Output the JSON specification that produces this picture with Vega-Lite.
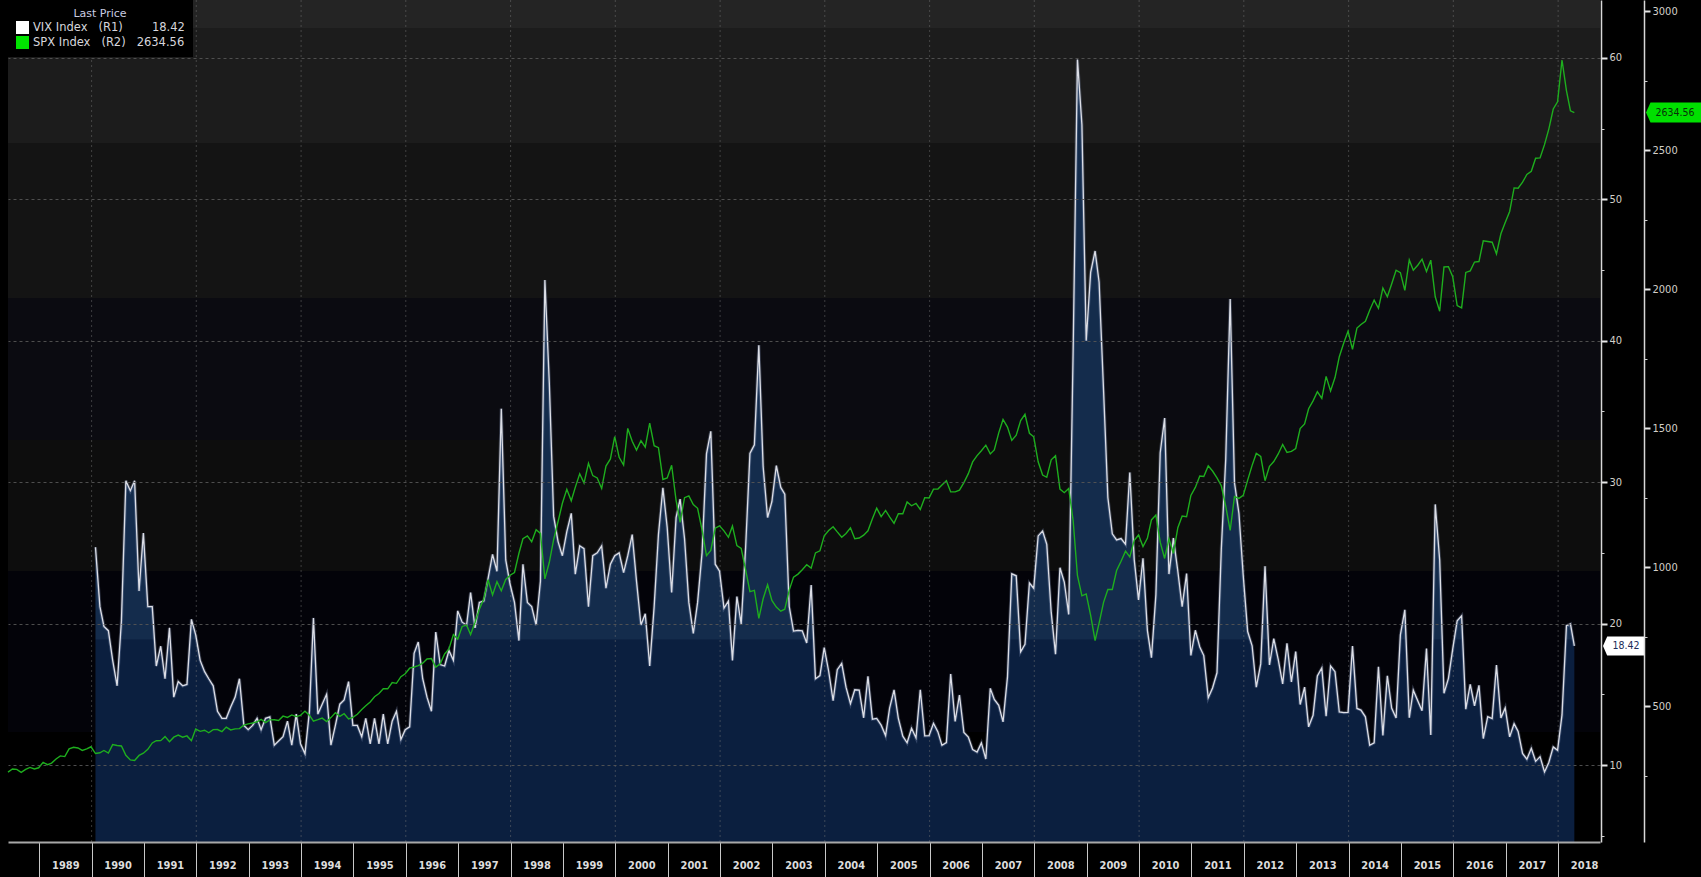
{
"$schema": "https://vega.github.io/schema/vega-lite/v6.json",
"width": 1592,
"height": 842,
"autosize": {"type": "none"},
"padding": {"left": 8, "top": 0, "right": 101, "bottom": 35},
"background": "#000000",
"config": {
  "view": {"stroke": null},
  "font": "Liberation Sans Narrow, DejaVu Sans Condensed, Liberation Sans, sans-serif"
},
"datasets": {
"bands": [
{"lo": 62.12, "hi": 64.1, "b": "b1"},
{"lo": 53.99, "hi": 62.12, "b": "b2"},
{"lo": 43.03, "hi": 53.99, "b": "b3"},
{"lo": 32.98, "hi": 43.03, "b": "b4"},
{"lo": 23.72, "hi": 32.98, "b": "b5"},
{"lo": 12.33, "hi": 23.72, "b": "b6"},
{"lo": 4.555, "hi": 12.33, "b": "b7"}
],
"vgrid": [
{"d":"1990-01-01"},{"d":"1992-01-01"},{"d":"1994-01-01"},{"d":"1996-01-01"},{"d":"1998-01-01"},{"d":"2000-01-01"},{"d":"2002-01-01"},{"d":"2004-01-01"},{"d":"2006-01-01"},{"d":"2008-01-01"},{"d":"2010-01-01"},{"d":"2012-01-01"},{"d":"2014-01-01"},{"d":"2016-01-01"},{"d":"2018-01-01"}
],
"last": [
{"s":"VIX Index","d":"2018-04-24","p":18.42},
{"s":"SPX Index","d":"2018-04-24","p":2634.56}
],
"lastvix": [{"d":"2018-04-24","v":18.42}],
"lastspx": [{"d":"2018-04-24","v":2634.56}],
"vix": [
{"d":"1990-01-28","v":25.4},{"d":"1990-02-28","v":21.2},{"d":"1990-03-28","v":19.8},{"d":"1990-04-28","v":19.5},{"d":"1990-05-28","v":17.4},{"d":"1990-06-28","v":15.6},{"d":"1990-07-28","v":20.2},{"d":"1990-08-28","v":30.1},{"d":"1990-09-28","v":29.4},{"d":"1990-10-28","v":30.1},{"d":"1990-11-28","v":22.3},{"d":"1990-12-28","v":26.4},
{"d":"1991-01-28","v":21.2},{"d":"1991-02-28","v":21.2},{"d":"1991-03-28","v":17.0},{"d":"1991-04-28","v":18.4},{"d":"1991-05-28","v":16.1},{"d":"1991-06-28","v":19.7},{"d":"1991-07-28","v":14.8},{"d":"1991-08-28","v":15.9},{"d":"1991-09-28","v":15.6},{"d":"1991-10-28","v":15.7},{"d":"1991-11-28","v":20.3},{"d":"1991-12-28","v":19.2},
{"d":"1992-01-28","v":17.4},{"d":"1992-02-28","v":16.6},{"d":"1992-03-28","v":16.1},{"d":"1992-04-28","v":15.6},{"d":"1992-05-28","v":13.8},{"d":"1992-06-28","v":13.3},{"d":"1992-07-28","v":13.3},{"d":"1992-08-28","v":14.1},{"d":"1992-09-28","v":14.8},{"d":"1992-10-28","v":16.1},{"d":"1992-11-28","v":12.8},{"d":"1992-12-28","v":12.5},
{"d":"1993-01-28","v":12.8},{"d":"1993-02-28","v":13.3},{"d":"1993-03-28","v":12.5},{"d":"1993-04-28","v":13.3},{"d":"1993-05-28","v":13.4},{"d":"1993-06-28","v":11.4},{"d":"1993-07-28","v":11.7},{"d":"1993-08-28","v":12.0},{"d":"1993-09-28","v":13.1},{"d":"1993-10-28","v":11.4},{"d":"1993-11-28","v":13.6},{"d":"1993-12-28","v":11.5},
{"d":"1994-01-28","v":10.8},{"d":"1994-02-28","v":13.8},{"d":"1994-03-28","v":20.4},{"d":"1994-04-28","v":13.6},{"d":"1994-05-28","v":14.3},{"d":"1994-06-28","v":15.0},{"d":"1994-07-28","v":11.4},{"d":"1994-08-28","v":12.8},{"d":"1994-09-28","v":14.3},{"d":"1994-10-28","v":14.6},{"d":"1994-11-28","v":15.9},{"d":"1994-12-28","v":12.8},
{"d":"1995-01-28","v":12.8},{"d":"1995-02-28","v":12.0},{"d":"1995-03-28","v":13.3},{"d":"1995-04-28","v":11.5},{"d":"1995-05-28","v":13.3},{"d":"1995-06-28","v":11.5},{"d":"1995-07-28","v":13.6},{"d":"1995-08-28","v":11.5},{"d":"1995-09-28","v":13.1},{"d":"1995-10-28","v":13.8},{"d":"1995-11-28","v":11.8},{"d":"1995-12-28","v":12.5},
{"d":"1996-01-28","v":12.7},{"d":"1996-02-28","v":17.9},{"d":"1996-03-28","v":18.7},{"d":"1996-04-28","v":16.1},{"d":"1996-05-28","v":14.8},{"d":"1996-06-28","v":13.8},{"d":"1996-07-28","v":19.4},{"d":"1996-08-28","v":17.1},{"d":"1996-09-28","v":17.0},{"d":"1996-10-28","v":18.1},{"d":"1996-11-28","v":17.4},{"d":"1996-12-28","v":20.9},
{"d":"1997-01-28","v":20.1},{"d":"1997-02-28","v":19.9},{"d":"1997-03-28","v":22.2},{"d":"1997-04-28","v":19.7},{"d":"1997-05-28","v":21.5},{"d":"1997-06-28","v":21.6},{"d":"1997-07-28","v":23.2},{"d":"1997-08-28","v":24.9},{"d":"1997-09-28","v":23.7},{"d":"1997-10-28","v":35.2},{"d":"1997-11-28","v":24.5},{"d":"1997-12-28","v":22.8},
{"d":"1998-01-28","v":21.5},{"d":"1998-02-28","v":18.8},{"d":"1998-03-28","v":24.2},{"d":"1998-04-28","v":21.5},{"d":"1998-05-28","v":21.2},{"d":"1998-06-28","v":19.9},{"d":"1998-07-28","v":23.0},{"d":"1998-08-28","v":44.3},{"d":"1998-09-28","v":37.0},{"d":"1998-10-28","v":27.6},{"d":"1998-11-28","v":25.8},{"d":"1998-12-28","v":24.8},
{"d":"1999-01-28","v":26.5},{"d":"1999-02-28","v":27.8},{"d":"1999-03-28","v":23.5},{"d":"1999-04-28","v":25.5},{"d":"1999-05-28","v":25.3},{"d":"1999-06-28","v":21.2},{"d":"1999-07-28","v":24.8},{"d":"1999-08-28","v":25.0},{"d":"1999-09-28","v":25.5},{"d":"1999-10-28","v":22.5},{"d":"1999-11-28","v":24.2},{"d":"1999-12-28","v":24.8},
{"d":"2000-01-28","v":25.0},{"d":"2000-02-28","v":23.6},{"d":"2000-03-28","v":24.8},{"d":"2000-04-28","v":26.3},{"d":"2000-05-28","v":23.0},{"d":"2000-06-28","v":19.9},{"d":"2000-07-28","v":20.7},{"d":"2000-08-28","v":17.0},{"d":"2000-09-28","v":21.2},{"d":"2000-10-28","v":26.3},{"d":"2000-11-28","v":29.6},{"d":"2000-12-28","v":26.8},
{"d":"2001-01-28","v":22.2},{"d":"2001-02-28","v":27.5},{"d":"2001-03-28","v":28.8},{"d":"2001-04-28","v":26.0},{"d":"2001-05-28","v":21.5},{"d":"2001-06-28","v":19.3},{"d":"2001-07-28","v":21.5},{"d":"2001-08-28","v":25.0},{"d":"2001-09-28","v":32.0},{"d":"2001-10-28","v":33.6},{"d":"2001-11-28","v":24.2},{"d":"2001-12-28","v":23.7},
{"d":"2002-01-28","v":21.09},{"d":"2002-02-28","v":21.59},{"d":"2002-03-28","v":17.4},{"d":"2002-04-28","v":21.91},{"d":"2002-05-28","v":19.98},{"d":"2002-06-28","v":25.4},{"d":"2002-07-28","v":32.03},{"d":"2002-08-28","v":32.64},{"d":"2002-09-28","v":39.69},{"d":"2002-10-28","v":31.11},{"d":"2002-11-28","v":27.5},{"d":"2002-12-28","v":28.62},
{"d":"2003-01-28","v":31.17},{"d":"2003-02-28","v":29.63},{"d":"2003-03-28","v":29.15},{"d":"2003-04-28","v":21.21},{"d":"2003-05-28","v":19.47},{"d":"2003-06-28","v":19.52},{"d":"2003-07-28","v":19.49},{"d":"2003-08-28","v":18.63},{"d":"2003-09-28","v":22.72},{"d":"2003-10-28","v":16.1},{"d":"2003-11-28","v":16.32},{"d":"2003-12-28","v":18.31},
{"d":"2004-01-28","v":16.63},{"d":"2004-02-28","v":14.55},{"d":"2004-03-28","v":16.74},{"d":"2004-04-28","v":17.19},{"d":"2004-05-28","v":15.5},{"d":"2004-06-28","v":14.34},{"d":"2004-07-28","v":15.32},{"d":"2004-08-28","v":15.29},{"d":"2004-09-28","v":13.34},{"d":"2004-10-28","v":16.27},{"d":"2004-11-28","v":13.24},{"d":"2004-12-28","v":13.29},
{"d":"2005-01-28","v":12.82},{"d":"2005-02-28","v":12.08},{"d":"2005-03-28","v":14.02},{"d":"2005-04-28","v":15.31},{"d":"2005-05-28","v":13.29},{"d":"2005-06-28","v":12.04},{"d":"2005-07-28","v":11.57},{"d":"2005-08-28","v":12.6},{"d":"2005-09-28","v":11.92},{"d":"2005-10-28","v":15.32},{"d":"2005-11-28","v":12.06},{"d":"2005-12-28","v":12.07},
{"d":"2006-01-28","v":12.95},{"d":"2006-02-28","v":12.34},{"d":"2006-03-28","v":11.39},{"d":"2006-04-28","v":11.59},{"d":"2006-05-28","v":16.44},{"d":"2006-06-28","v":13.08},{"d":"2006-07-28","v":14.95},{"d":"2006-08-28","v":12.31},{"d":"2006-09-28","v":11.98},{"d":"2006-10-28","v":11.1},{"d":"2006-11-28","v":10.91},{"d":"2006-12-28","v":11.56},
{"d":"2007-01-28","v":10.42},{"d":"2007-02-28","v":15.42},{"d":"2007-03-28","v":14.64},{"d":"2007-04-28","v":14.22},{"d":"2007-05-28","v":13.05},{"d":"2007-06-28","v":16.23},{"d":"2007-07-28","v":23.52},{"d":"2007-08-28","v":23.38},{"d":"2007-09-28","v":18.0},{"d":"2007-10-28","v":18.53},{"d":"2007-11-28","v":22.87},{"d":"2007-12-28","v":22.5},
{"d":"2008-01-28","v":26.2},{"d":"2008-02-28","v":26.54},{"d":"2008-03-28","v":25.61},{"d":"2008-04-28","v":20.79},{"d":"2008-05-28","v":17.83},{"d":"2008-06-28","v":23.95},{"d":"2008-07-28","v":22.94},{"d":"2008-08-28","v":20.65},{"d":"2008-09-28","v":39.39},{"d":"2008-10-28","v":59.89},{"d":"2008-11-28","v":55.28},{"d":"2008-12-28","v":40.0},
{"d":"2009-01-28","v":44.84},{"d":"2009-02-28","v":46.35},{"d":"2009-03-28","v":44.14},{"d":"2009-04-28","v":36.5},{"d":"2009-05-28","v":28.92},{"d":"2009-06-28","v":26.35},{"d":"2009-07-28","v":25.92},{"d":"2009-08-28","v":26.01},{"d":"2009-09-28","v":25.61},{"d":"2009-10-28","v":30.69},{"d":"2009-11-28","v":24.51},{"d":"2009-12-28","v":21.68},
{"d":"2010-01-28","v":24.62},{"d":"2010-02-28","v":19.5},{"d":"2010-03-28","v":17.59},{"d":"2010-04-28","v":22.05},{"d":"2010-05-28","v":32.07},{"d":"2010-06-28","v":34.54},{"d":"2010-07-28","v":23.5},{"d":"2010-08-28","v":26.05},{"d":"2010-09-28","v":23.7},{"d":"2010-10-28","v":21.2},{"d":"2010-11-28","v":23.54},{"d":"2010-12-28","v":17.75},
{"d":"2011-01-28","v":19.53},{"d":"2011-02-28","v":18.35},{"d":"2011-03-28","v":17.74},{"d":"2011-04-28","v":14.75},{"d":"2011-05-28","v":15.45},{"d":"2011-06-28","v":16.52},{"d":"2011-07-28","v":25.25},{"d":"2011-08-28","v":31.62},{"d":"2011-09-28","v":42.96},{"d":"2011-10-28","v":29.96},{"d":"2011-11-28","v":27.8},{"d":"2011-12-28","v":23.4},
{"d":"2012-01-28","v":19.44},{"d":"2012-02-28","v":18.43},{"d":"2012-03-28","v":15.5},{"d":"2012-04-28","v":17.15},{"d":"2012-05-28","v":24.06},{"d":"2012-06-28","v":17.08},{"d":"2012-07-28","v":18.93},{"d":"2012-08-28","v":17.47},{"d":"2012-09-28","v":15.73},{"d":"2012-10-28","v":18.6},{"d":"2012-11-28","v":15.87},{"d":"2012-12-28","v":18.02},
{"d":"2013-01-28","v":14.28},{"d":"2013-02-28","v":15.51},{"d":"2013-03-28","v":12.7},{"d":"2013-04-28","v":13.52},{"d":"2013-05-28","v":16.3},{"d":"2013-06-28","v":16.86},{"d":"2013-07-28","v":13.45},{"d":"2013-08-28","v":17.01},{"d":"2013-09-28","v":16.6},{"d":"2013-10-28","v":13.75},{"d":"2013-11-28","v":13.7},{"d":"2013-12-28","v":13.72},
{"d":"2014-01-28","v":18.41},{"d":"2014-02-28","v":14.0},{"d":"2014-03-28","v":13.88},{"d":"2014-04-28","v":13.41},{"d":"2014-05-28","v":11.4},{"d":"2014-06-28","v":11.57},{"d":"2014-07-28","v":16.95},{"d":"2014-08-28","v":12.09},{"d":"2014-09-28","v":16.31},{"d":"2014-10-28","v":14.03},{"d":"2014-11-28","v":13.33},{"d":"2014-12-28","v":19.2},
{"d":"2015-01-28","v":20.97},{"d":"2015-02-28","v":13.34},{"d":"2015-03-28","v":15.29},{"d":"2015-04-28","v":14.55},{"d":"2015-05-28","v":13.84},{"d":"2015-06-28","v":18.23},{"d":"2015-07-28","v":12.12},{"d":"2015-08-28","v":28.43},{"d":"2015-09-28","v":24.5},{"d":"2015-10-28","v":15.07},{"d":"2015-11-28","v":16.13},{"d":"2015-12-28","v":18.21},
{"d":"2016-01-28","v":20.2},{"d":"2016-02-28","v":20.55},{"d":"2016-03-28","v":13.95},{"d":"2016-04-28","v":15.7},{"d":"2016-05-28","v":14.19},{"d":"2016-06-28","v":15.63},{"d":"2016-07-28","v":11.87},{"d":"2016-08-28","v":13.42},{"d":"2016-09-28","v":13.29},{"d":"2016-10-28","v":17.06},{"d":"2016-11-28","v":13.33},{"d":"2016-12-28","v":14.04},
{"d":"2017-01-28","v":11.99},{"d":"2017-02-28","v":12.92},{"d":"2017-03-28","v":12.37},{"d":"2017-04-28","v":10.82},{"d":"2017-05-28","v":10.41},{"d":"2017-06-28","v":11.18},{"d":"2017-07-28","v":10.26},{"d":"2017-08-28","v":10.59},{"d":"2017-09-28","v":9.51},{"d":"2017-10-28","v":10.18},{"d":"2017-11-28","v":11.28},{"d":"2017-12-28","v":11.04},
{"d":"2018-01-28","v":13.54},{"d":"2018-02-28","v":19.85},{"d":"2018-03-28","v":19.97},{"d":"2018-04-24","v":18.42}
],
"spx": [
{"d":"1988-05-28","v":262.16},{"d":"1988-06-28","v":273.5},{"d":"1988-07-28","v":272.02},{"d":"1988-08-28","v":261.52},{"d":"1988-09-28","v":271.91},{"d":"1988-10-28","v":278.97},{"d":"1988-11-28","v":273.7},{"d":"1988-12-28","v":277.72},
{"d":"1989-01-28","v":297.47},{"d":"1989-02-28","v":288.86},{"d":"1989-03-28","v":294.87},{"d":"1989-04-28","v":309.64},{"d":"1989-05-28","v":320.52},{"d":"1989-06-28","v":317.98},{"d":"1989-07-28","v":346.08},{"d":"1989-08-28","v":351.45},{"d":"1989-09-28","v":349.15},{"d":"1989-10-28","v":340.36},{"d":"1989-11-28","v":345.99},{"d":"1989-12-28","v":353.4},
{"d":"1990-01-28","v":329.08},{"d":"1990-02-28","v":331.89},{"d":"1990-03-28","v":339.94},{"d":"1990-04-28","v":330.8},{"d":"1990-05-28","v":361.23},{"d":"1990-06-28","v":358.02},{"d":"1990-07-28","v":356.15},{"d":"1990-08-28","v":322.56},{"d":"1990-09-28","v":306.05},{"d":"1990-10-28","v":304.0},{"d":"1990-11-28","v":322.22},{"d":"1990-12-28","v":330.22},
{"d":"1991-01-28","v":343.93},{"d":"1991-02-28","v":367.07},{"d":"1991-03-28","v":375.22},{"d":"1991-04-28","v":375.34},{"d":"1991-05-28","v":389.83},{"d":"1991-06-28","v":371.16},{"d":"1991-07-28","v":387.81},{"d":"1991-08-28","v":395.43},{"d":"1991-09-28","v":387.86},{"d":"1991-10-28","v":392.46},{"d":"1991-11-28","v":375.22},{"d":"1991-12-28","v":417.09},
{"d":"1992-01-28","v":408.79},{"d":"1992-02-28","v":412.7},{"d":"1992-03-28","v":403.69},{"d":"1992-04-28","v":414.95},{"d":"1992-05-28","v":415.35},{"d":"1992-06-28","v":408.14},{"d":"1992-07-28","v":424.21},{"d":"1992-08-28","v":414.03},{"d":"1992-09-28","v":417.8},{"d":"1992-10-28","v":418.68},{"d":"1992-11-28","v":431.35},{"d":"1992-12-28","v":435.71},
{"d":"1993-01-28","v":438.78},{"d":"1993-02-28","v":443.38},{"d":"1993-03-28","v":451.67},{"d":"1993-04-28","v":440.19},{"d":"1993-05-28","v":450.19},{"d":"1993-06-28","v":450.53},{"d":"1993-07-28","v":448.13},{"d":"1993-08-28","v":463.56},{"d":"1993-09-28","v":458.93},{"d":"1993-10-28","v":467.83},{"d":"1993-11-28","v":461.79},{"d":"1993-12-28","v":466.45},
{"d":"1994-01-28","v":481.61},{"d":"1994-02-28","v":467.14},{"d":"1994-03-28","v":445.77},{"d":"1994-04-28","v":450.91},{"d":"1994-05-28","v":456.5},{"d":"1994-06-28","v":444.27},{"d":"1994-07-28","v":458.26},{"d":"1994-08-28","v":475.49},{"d":"1994-09-28","v":462.69},{"d":"1994-10-28","v":472.35},{"d":"1994-11-28","v":453.69},{"d":"1994-12-28","v":459.27},
{"d":"1995-01-28","v":470.42},{"d":"1995-02-28","v":487.39},{"d":"1995-03-28","v":500.71},{"d":"1995-04-28","v":514.71},{"d":"1995-05-28","v":533.4},{"d":"1995-06-28","v":544.75},{"d":"1995-07-28","v":562.06},{"d":"1995-08-28","v":561.88},{"d":"1995-09-28","v":584.41},{"d":"1995-10-28","v":581.5},{"d":"1995-11-28","v":605.37},{"d":"1995-12-28","v":615.93},
{"d":"1996-01-28","v":636.02},{"d":"1996-02-28","v":640.43},{"d":"1996-03-28","v":645.5},{"d":"1996-04-28","v":654.17},{"d":"1996-05-28","v":669.12},{"d":"1996-06-28","v":670.63},{"d":"1996-07-28","v":639.95},{"d":"1996-08-28","v":651.99},{"d":"1996-09-28","v":687.33},{"d":"1996-10-28","v":705.27},{"d":"1996-11-28","v":757.02},{"d":"1996-12-28","v":740.74},
{"d":"1997-01-28","v":786.16},{"d":"1997-02-28","v":790.82},{"d":"1997-03-28","v":757.12},{"d":"1997-04-28","v":801.34},{"d":"1997-05-28","v":848.28},{"d":"1997-06-28","v":885.14},{"d":"1997-07-28","v":954.29},{"d":"1997-08-28","v":899.47},{"d":"1997-09-28","v":947.28},{"d":"1997-10-28","v":914.62},{"d":"1997-11-28","v":955.4},{"d":"1997-12-28","v":970.43},
{"d":"1998-01-28","v":980.28},{"d":"1998-02-28","v":1049.34},{"d":"1998-03-28","v":1101.75},{"d":"1998-04-28","v":1111.75},{"d":"1998-05-28","v":1090.82},{"d":"1998-06-28","v":1133.84},{"d":"1998-07-28","v":1120.67},{"d":"1998-08-28","v":957.28},{"d":"1998-09-28","v":1017.01},{"d":"1998-10-28","v":1098.67},{"d":"1998-11-28","v":1163.63},{"d":"1998-12-28","v":1229.23},
{"d":"1999-01-28","v":1279.64},{"d":"1999-02-28","v":1238.33},{"d":"1999-03-28","v":1286.37},{"d":"1999-04-28","v":1335.18},{"d":"1999-05-28","v":1301.84},{"d":"1999-06-28","v":1372.71},{"d":"1999-07-28","v":1328.72},{"d":"1999-08-28","v":1320.41},{"d":"1999-09-28","v":1282.71},{"d":"1999-10-28","v":1362.93},{"d":"1999-11-28","v":1388.91},{"d":"1999-12-28","v":1469.25},
{"d":"2000-01-28","v":1394.46},{"d":"2000-02-28","v":1366.42},{"d":"2000-03-28","v":1498.58},{"d":"2000-04-28","v":1452.43},{"d":"2000-05-28","v":1420.6},{"d":"2000-06-28","v":1454.6},{"d":"2000-07-28","v":1430.83},{"d":"2000-08-28","v":1517.68},{"d":"2000-09-28","v":1436.51},{"d":"2000-10-28","v":1429.4},{"d":"2000-11-28","v":1314.95},{"d":"2000-12-28","v":1320.28},
{"d":"2001-01-28","v":1366.01},{"d":"2001-02-28","v":1239.94},{"d":"2001-03-28","v":1160.33},{"d":"2001-04-28","v":1249.46},{"d":"2001-05-28","v":1255.82},{"d":"2001-06-28","v":1224.42},{"d":"2001-07-28","v":1211.23},{"d":"2001-08-28","v":1133.58},{"d":"2001-09-28","v":1040.94},{"d":"2001-10-28","v":1059.78},{"d":"2001-11-28","v":1139.45},{"d":"2001-12-28","v":1148.08},
{"d":"2002-01-28","v":1130.2},{"d":"2002-02-28","v":1106.73},{"d":"2002-03-28","v":1147.39},{"d":"2002-04-28","v":1076.92},{"d":"2002-05-28","v":1067.14},{"d":"2002-06-28","v":989.82},{"d":"2002-07-28","v":911.62},{"d":"2002-08-28","v":916.07},{"d":"2002-09-28","v":815.28},{"d":"2002-10-28","v":885.76},{"d":"2002-11-28","v":936.31},{"d":"2002-12-28","v":879.82},
{"d":"2003-01-28","v":855.7},{"d":"2003-02-28","v":841.15},{"d":"2003-03-28","v":848.18},{"d":"2003-04-28","v":916.92},{"d":"2003-05-28","v":963.59},{"d":"2003-06-28","v":974.5},{"d":"2003-07-28","v":990.31},{"d":"2003-08-28","v":1008.01},{"d":"2003-09-28","v":995.97},{"d":"2003-10-28","v":1050.71},{"d":"2003-11-28","v":1058.2},{"d":"2003-12-28","v":1111.92},
{"d":"2004-01-28","v":1131.13},{"d":"2004-02-28","v":1144.94},{"d":"2004-03-28","v":1126.21},{"d":"2004-04-28","v":1107.3},{"d":"2004-05-28","v":1120.68},{"d":"2004-06-28","v":1140.84},{"d":"2004-07-28","v":1101.72},{"d":"2004-08-28","v":1104.24},{"d":"2004-09-28","v":1114.58},{"d":"2004-10-28","v":1130.2},{"d":"2004-11-28","v":1173.82},{"d":"2004-12-28","v":1211.92},
{"d":"2005-01-28","v":1181.27},{"d":"2005-02-28","v":1203.6},{"d":"2005-03-28","v":1180.59},{"d":"2005-04-28","v":1156.85},{"d":"2005-05-28","v":1191.5},{"d":"2005-06-28","v":1191.33},{"d":"2005-07-28","v":1234.18},{"d":"2005-08-28","v":1220.33},{"d":"2005-09-28","v":1228.81},{"d":"2005-10-28","v":1207.01},{"d":"2005-11-28","v":1249.48},{"d":"2005-12-28","v":1248.29},
{"d":"2006-01-28","v":1280.08},{"d":"2006-02-28","v":1280.66},{"d":"2006-03-28","v":1294.83},{"d":"2006-04-28","v":1310.61},{"d":"2006-05-28","v":1270.09},{"d":"2006-06-28","v":1270.2},{"d":"2006-07-28","v":1276.66},{"d":"2006-08-28","v":1303.82},{"d":"2006-09-28","v":1335.85},{"d":"2006-10-28","v":1377.94},{"d":"2006-11-28","v":1400.63},{"d":"2006-12-28","v":1418.3},
{"d":"2007-01-28","v":1438.24},{"d":"2007-02-28","v":1406.82},{"d":"2007-03-28","v":1420.86},{"d":"2007-04-28","v":1482.37},{"d":"2007-05-28","v":1530.62},{"d":"2007-06-28","v":1503.35},{"d":"2007-07-28","v":1455.27},{"d":"2007-08-28","v":1473.99},{"d":"2007-09-28","v":1526.75},{"d":"2007-10-28","v":1549.38},{"d":"2007-11-28","v":1481.14},{"d":"2007-12-28","v":1468.36},
{"d":"2008-01-28","v":1378.55},{"d":"2008-02-28","v":1330.63},{"d":"2008-03-28","v":1322.7},{"d":"2008-04-28","v":1385.59},{"d":"2008-05-28","v":1400.38},{"d":"2008-06-28","v":1280.0},{"d":"2008-07-28","v":1267.38},{"d":"2008-08-28","v":1282.83},{"d":"2008-09-28","v":1166.36},{"d":"2008-10-28","v":968.75},{"d":"2008-11-28","v":896.24},{"d":"2008-12-28","v":903.25},
{"d":"2009-01-28","v":825.88},{"d":"2009-02-28","v":735.09},{"d":"2009-03-28","v":797.87},{"d":"2009-04-28","v":872.81},{"d":"2009-05-28","v":919.14},{"d":"2009-06-28","v":919.32},{"d":"2009-07-28","v":987.48},{"d":"2009-08-28","v":1020.62},{"d":"2009-09-28","v":1057.08},{"d":"2009-10-28","v":1036.19},{"d":"2009-11-28","v":1095.63},{"d":"2009-12-28","v":1115.1},
{"d":"2010-01-28","v":1073.87},{"d":"2010-02-28","v":1104.49},{"d":"2010-03-28","v":1169.43},{"d":"2010-04-28","v":1186.69},{"d":"2010-05-28","v":1089.41},{"d":"2010-06-28","v":1030.71},{"d":"2010-07-28","v":1101.6},{"d":"2010-08-28","v":1049.33},{"d":"2010-09-28","v":1141.2},{"d":"2010-10-28","v":1183.26},{"d":"2010-11-28","v":1180.55},{"d":"2010-12-28","v":1257.64},
{"d":"2011-01-28","v":1286.12},{"d":"2011-02-28","v":1327.22},{"d":"2011-03-28","v":1325.83},{"d":"2011-04-28","v":1363.61},{"d":"2011-05-28","v":1345.2},{"d":"2011-06-28","v":1320.64},{"d":"2011-07-28","v":1292.28},{"d":"2011-08-28","v":1218.89},{"d":"2011-09-28","v":1131.42},{"d":"2011-10-28","v":1253.3},{"d":"2011-11-28","v":1246.96},{"d":"2011-12-28","v":1257.6},
{"d":"2012-01-28","v":1312.41},{"d":"2012-02-28","v":1365.68},{"d":"2012-03-28","v":1408.47},{"d":"2012-04-28","v":1397.91},{"d":"2012-05-28","v":1310.33},{"d":"2012-06-28","v":1362.16},{"d":"2012-07-28","v":1379.32},{"d":"2012-08-28","v":1406.58},{"d":"2012-09-28","v":1440.67},{"d":"2012-10-28","v":1412.16},{"d":"2012-11-28","v":1416.18},{"d":"2012-12-28","v":1426.19},
{"d":"2013-01-28","v":1498.11},{"d":"2013-02-28","v":1514.68},{"d":"2013-03-28","v":1569.19},{"d":"2013-04-28","v":1597.57},{"d":"2013-05-28","v":1630.74},{"d":"2013-06-28","v":1606.28},{"d":"2013-07-28","v":1685.73},{"d":"2013-08-28","v":1632.97},{"d":"2013-09-28","v":1681.55},{"d":"2013-10-28","v":1756.54},{"d":"2013-11-28","v":1805.81},{"d":"2013-12-28","v":1848.36},
{"d":"2014-01-28","v":1782.59},{"d":"2014-02-28","v":1859.45},{"d":"2014-03-28","v":1872.34},{"d":"2014-04-28","v":1883.95},{"d":"2014-05-28","v":1923.57},{"d":"2014-06-28","v":1960.23},{"d":"2014-07-28","v":1930.67},{"d":"2014-08-28","v":2003.37},{"d":"2014-09-28","v":1972.29},{"d":"2014-10-28","v":2018.05},{"d":"2014-11-28","v":2067.56},{"d":"2014-12-28","v":2058.9},
{"d":"2015-01-28","v":1994.99},{"d":"2015-02-28","v":2104.5},{"d":"2015-03-28","v":2067.89},{"d":"2015-04-28","v":2085.51},{"d":"2015-05-28","v":2107.39},{"d":"2015-06-28","v":2063.11},{"d":"2015-07-28","v":2103.84},{"d":"2015-08-28","v":1972.18},{"d":"2015-09-28","v":1920.03},{"d":"2015-10-28","v":2079.36},{"d":"2015-11-28","v":2080.41},{"d":"2015-12-28","v":2043.94},
{"d":"2016-01-28","v":1940.24},{"d":"2016-02-28","v":1932.23},{"d":"2016-03-28","v":2059.74},{"d":"2016-04-28","v":2065.3},{"d":"2016-05-28","v":2096.95},{"d":"2016-06-28","v":2098.86},{"d":"2016-07-28","v":2173.6},{"d":"2016-08-28","v":2170.95},{"d":"2016-09-28","v":2168.27},{"d":"2016-10-28","v":2126.15},{"d":"2016-11-28","v":2198.81},{"d":"2016-12-28","v":2238.83},
{"d":"2017-01-28","v":2278.87},{"d":"2017-02-28","v":2363.64},{"d":"2017-03-28","v":2362.72},{"d":"2017-04-28","v":2384.2},{"d":"2017-05-28","v":2411.8},{"d":"2017-06-28","v":2423.41},{"d":"2017-07-28","v":2470.3},{"d":"2017-08-28","v":2471.65},{"d":"2017-09-28","v":2519.36},{"d":"2017-10-28","v":2575.26},{"d":"2017-11-28","v":2647.58},{"d":"2017-12-28","v":2673.61},
{"d":"2018-01-28","v":2823.81},{"d":"2018-02-28","v":2713.83},{"d":"2018-03-28","v":2640.87},{"d":"2018-04-24","v":2634.56}
]
},
"layer": [
{
"data": {"name": "bands"},
"mark": {"type": "rect"},
"encoding": {
"x": {"datum": {"year": 1988, "month": 5, "date": 28}, "type": "temporal", "title": null, "scale": {"domain": [{"year": 1988, "month": 5, "date": 28}, {"year": 2018, "month": 10, "date": 20}]}},
"x2": {"datum": {"year": 2018, "month": 10, "date": 20}},
"y": {"field": "lo", "type": "quantitative", "scale": {"domain": [4.555, 64.1], "zero": false, "nice": false}, "axis": null},
"y2": {"field": "hi"},
"fill": {"field": "b", "type": "nominal", "scale": {"domain": ["b1","b2","b3","b4","b5","b6","b7"], "range": ["#242424","#1c1c1c","#141414","#0b0b11","#0d0d0d","#030309","#000000"]}, "legend": null}
}
},
{
"data": {"name": "vix"},
"mark": {"type": "area", "color": {"gradient": "linear", "x1": 0, "y1": 0, "x2": 0, "y2": 1, "stops": [{"offset": 0, "color": "#142c4c"}, {"offset": 0.74, "color": "#142c4c"}, {"offset": 0.742, "color": "#0b1f3f"}, {"offset": 1, "color": "#0b1f3f"}]}},
"encoding": {
"x": {"field": "d", "type": "temporal", "title": null},
"y": {"field": "v", "type": "quantitative", "scale": {"domain": [4.555, 64.1], "zero": false, "nice": false},
 "axis": {"orient": "right", "offset": 1, "title": null, "values": [10,20,30,40,50,60], "grid": true, "gridDash": [3, 3], "gridColor": "#555555", "gridOpacity": 0.9, "domainColor": "#d8d8d8", "domainWidth": 1.5, "tickColor": "#e6e6e6", "tickSize": 6, "tickWidth": 2, "labelColor": "#d2cfc8", "labelFontSize": 11, "labelPadding": 2, "zindex": 1}},
"y2": {"datum": 4.555}
}
},
{
"data": {"name": "vgrid"},
"mark": {"type": "rule", "color": "#7a7a7a", "strokeDash": [2, 3], "strokeWidth": 1, "opacity": 0.45},
"encoding": {
"x": {"field": "d", "type": "temporal", "title": null, "scale": {"domain": [{"year": 1988, "month": 5, "date": 28}, {"year": 2018, "month": 10, "date": 20}]},
 "axis": {"orient": "bottom", "title": null, "format": "%Y", "values": [{"year":1989},{"year":1990},{"year":1991},{"year":1992},{"year":1993},{"year":1994},{"year":1995},{"year":1996},{"year":1997},{"year":1998},{"year":1999},{"year":2000},{"year":2001},{"year":2002},{"year":2003},{"year":2004},{"year":2005},{"year":2006},{"year":2007},{"year":2008},{"year":2009},{"year":2010},{"year":2011},{"year":2012},{"year":2013},{"year":2014},{"year":2015},{"year":2016},{"year":2017},{"year":2018}], "tickSize": 36, "tickColor": "#c8c8c8", "tickWidth": 1, "domainColor": "#a8a8a8", "domainWidth": 2, "labelColor": "#dcdcdc", "labelFontSize": 11, "labelFontWeight": "bold", "labelOffset": 26, "labelPadding": -13, "labelBaseline": "middle", "labelFlush": false, "labelOverlap": false, "grid": false, "zindex": 1}}
}
},
{
"data": {"name": "vix"},
"mark": {"type": "line", "color": "#8a9cc0", "strokeWidth": 3.2, "opacity": 0.3},
"encoding": {
"x": {"field": "d", "type": "temporal", "title": null},
"y": {"field": "v", "type": "quantitative", "scale": {"domain": [4.555, 64.1], "zero": false, "nice": false},
 "axis": {"orient": "right", "offset": 1, "title": null, "values": [5,15,25,35,45,55], "labels": false, "domain": false, "grid": false, "tickColor": "#cfcfcf", "tickSize": 3, "tickWidth": 1}}
}
},
{
"data": {"name": "vix"},
"mark": {"type": "line", "color": "#dcdee6", "strokeWidth": 1.3},
"encoding": {
"x": {"field": "d", "type": "temporal", "title": null},
"y": {"field": "v", "type": "quantitative", "scale": {"domain": [4.555, 64.1], "zero": false, "nice": false}, "axis": null}
}
},
{
"data": {"name": "spx"},
"mark": {"type": "line", "color": "#1eae1e", "strokeWidth": 1.4},
"encoding": {
"x": {"field": "d", "type": "temporal", "title": null},
"y": {"field": "v", "type": "quantitative", "scale": {"domain": [10.8, 3039.6], "zero": false, "nice": false},
 "axis": {"orient": "right", "offset": 44, "title": null, "values": [500,1000,1500,2000,2500,3000], "format": "d", "grid": false, "domainColor": "#d8d8d8", "domainWidth": 1.5, "tickColor": "#e6e6e6", "tickSize": 6, "tickWidth": 2, "labelColor": "#d2cfc8", "labelFontSize": 11, "labelPadding": 2, "zindex": 1}}
}
},
{
"data": {"name": "last"},
"mark": {"type": "square", "opacity": 0},
"encoding": {
"x": {"field": "d", "type": "temporal", "title": null},
"y": {"field": "p", "type": "quantitative", "scale": {"domain": [10.8, 3039.6], "zero": false, "nice": false},
 "axis": {"orient": "right", "offset": 44, "title": null, "values": [250,750,1250,1750,2250,2750], "labels": false, "domain": false, "grid": false, "tickColor": "#cfcfcf", "tickSize": 3, "tickWidth": 1}},
"color": {"field": "s", "type": "nominal", "scale": {"domain": ["VIX Index", "SPX Index"], "range": ["#ffffff", "#00e400"]},
 "legend": {"orient": "top-left", "offset": 0, "title": "Last Price", "fillColor": "#000000", "padding": 8, "titleAnchor": "middle", "titleColor": "#c8cce0", "titleFontSize": 11, "titleFontWeight": "normal", "titleFont": "DejaVu Sans", "titlePadding": 2, "labelFont": "DejaVu Sans", "labelColor": "#d6d6dc", "labelFontSize": 11.5, "labelOffset": 4, "symbolType": "square", "symbolSize": 169, "symbolOpacity": 1, "symbolStrokeWidth": 0, "rowPadding": 2, "labelLimit": 400, "labelExpr": "datum.label === 'VIX Index' ? 'VIX Index\u00a0\u00a0\u00a0(R1)\u00a0\u00a0\u00a0\u00a0\u00a0\u00a0\u00a0\u00a018.42' : 'SPX Index\u00a0\u00a0\u00a0(R2)\u00a0\u00a0\u00a02634.56'"}}
}
},
{
"data": {"name": "lastvix"},
"mark": {"type": "point", "shape": "M-1,0 L-0.8,-0.45 L1,-0.45 L1,0.45 L-0.8,0.45 Z", "filled": true, "color": "#ffffff", "opacity": 1, "size": 1764, "xOffset": 24},
"encoding": {
"x": {"datum": {"year": 2018, "month": 10, "date": 20}, "type": "temporal", "title": null},
"y": {"field": "v", "type": "quantitative", "scale": {"domain": [4.555, 64.1], "zero": false, "nice": false}, "axis": null}
}
},
{
"data": {"name": "lastvix"},
"mark": {"type": "text", "dx": 26, "color": "#1c2c58", "fontSize": 10.5, "align": "center", "baseline": "middle"},
"encoding": {
"x": {"datum": {"year": 2018, "month": 10, "date": 20}, "type": "temporal", "title": null},
"y": {"field": "v", "type": "quantitative", "scale": {"domain": [4.555, 64.1], "zero": false, "nice": false}, "axis": null},
"text": {"field": "v", "type": "quantitative", "format": ".2f"}
}
},
{
"data": {"name": "lastspx"},
"mark": {"type": "point", "shape": "M-1,0 L-0.85,-0.333 L1,-0.333 L1,0.333 L-0.85,0.333 Z", "filled": true, "color": "#00e000", "opacity": 1, "size": 3600, "xOffset": 76},
"encoding": {
"x": {"datum": {"year": 2018, "month": 10, "date": 20}, "type": "temporal", "title": null},
"y": {"field": "v", "type": "quantitative", "scale": {"domain": [10.8, 3039.6], "zero": false, "nice": false}, "axis": null}
}
},
{
"data": {"name": "lastspx"},
"mark": {"type": "text", "dx": 75, "color": "#0a300a", "fontSize": 10.5, "align": "center", "baseline": "middle"},
"encoding": {
"x": {"datum": {"year": 2018, "month": 10, "date": 20}, "type": "temporal", "title": null},
"y": {"field": "v", "type": "quantitative", "scale": {"domain": [10.8, 3039.6], "zero": false, "nice": false}, "axis": null},
"text": {"field": "v", "type": "quantitative", "format": ".2f"}
}
}
],
"resolve": {"scale": {"y": "independent"}, "axis": {"y": "independent"}}
}
